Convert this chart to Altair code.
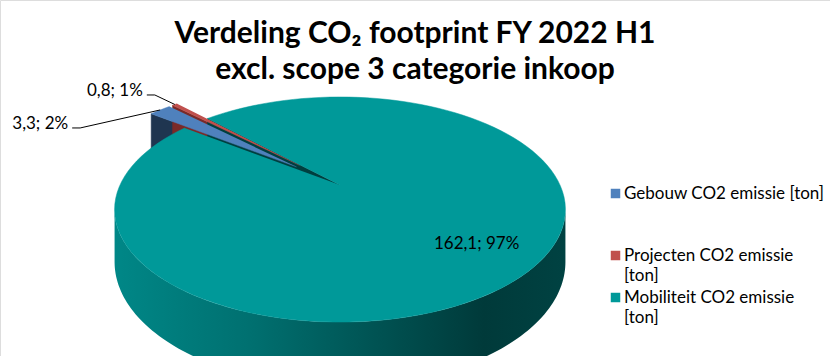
import math
import altair as alt
import pandas as pd

# ---------------- data ----------------
categories = ["Gebouw CO2 emissie [ton]", "Projecten CO2 emissie [ton]", "Mobiliteit CO2 emissie [ton]"]
values = [3.3, 0.8, 162.1]
percent_labels = [2, 1, 97]

# ---------------- style / layout ----------------
colors = ["#4F81BD", "#C0504D", "#009999"]
cut_colors = ["#1F3550", "#7A2A28", "#003F3F"]
explode = [0.27, 0.27, 0.0]
label_outside = [1, 1, 0]
elbow_dx = [-80, -20, 0]   # px offset of leader elbow from slice edge
elbow_dy = [18, -9.5, 0]
LEAD = 8                   # px horizontal end of leader
INSIDE_R = 0.74

W, H = 830, 356
CX, CY = 340.0, 185.0
AX, AY = 220.0, 107.2
P = 0.218
DZ = 0.466
ROT = math.radians(-53)
N = 120
FONT = "Lato"
LABEL_SIZE = 17

xdom = [(0 - CX) / AX, (W - CX) / AX]
ydom = [(0 - CY) / AY, (H - CY) / AY]
xscale = alt.Scale(domain=xdom, nice=False, zero=False)
yscale = alt.Scale(domain=ydom, nice=False, zero=False, reverse=True)

df = pd.DataFrame({
    "cat": categories,
    "value": values,
    "pct": percent_labels,
    "idx": list(range(len(categories))),
})


def base_chart():
    return (
        alt.Chart(df)
        .transform_window(cum="sum(value)", sort=[alt.SortField("idx")], frame=[None, 0])
        .transform_joinaggregate(total="sum(value)")
        .transform_calculate(a0=f"{ROT} + 2*PI*(datum.cum - datum.value)/datum.total")
        .transform_calculate(a1=f"{ROT} + 2*PI*datum.cum/datum.total")
        .transform_calculate(am="(datum.a0 + datum.a1)/2")
        .transform_calculate(ex=f"{explode}[datum.idx]")
        .transform_calculate(ox="datum.ex*sin(datum.am)")
        .transform_calculate(oz="-datum.ex*cos(datum.am)")
        .transform_calculate(col=f"{colors}[datum.idx]")
        .transform_calculate(ccol=f"{cut_colors}[datum.idx]")
    )


def project(ch, hexpr="0"):
    return (
        ch.transform_calculate(px=f"datum.X/(1 - {P}*datum.Z)")
        .transform_calculate(py=f"(datum.Z + ({hexpr})*{DZ})/(1 - {P}*datum.Z)")
    )


XE = alt.X("px:Q", scale=xscale, axis=None)
YE = alt.Y("py:Q", scale=yscale, axis=None)

# cut faces (start edge of each slice)
cut = (
    base_chart()
    .transform_calculate(k="sequence(0, 4)")
    .transform_flatten(["k"])
    .transform_calculate(r="(datum.k == 1 || datum.k == 2) ? 1 : 0")
    .transform_calculate(h="datum.k >= 2 ? 1 : 0")
    .transform_calculate(X="datum.ox + datum.r*sin(datum.a0)")
    .transform_calculate(Z="datum.oz - datum.r*cos(datum.a0)")
)
cut = project(cut, "datum.h").mark_line(strokeWidth=0.5).encode(
    x=XE, y=YE, order="k:Q", detail="cat:N",
    fill=alt.Fill("ccol:N", scale=None),
    stroke=alt.Stroke("ccol:N", scale=None),
)

# outer side wall (visible front part)
TS = math.acos(-P)
TE = 2 * math.pi - TS
side = (
    base_chart()
    .transform_calculate(lo=f"max(datum.a0, {TS})")
    .transform_calculate(hi=f"min(datum.a1, {TE})")
    .transform_filter("datum.lo < datum.hi")
    .transform_calculate(k=f"sequence(0, {2 * N + 2})")
    .transform_flatten(["k"])
    .transform_calculate(j=f"datum.k <= {N} ? datum.k : {2 * N + 1} - datum.k")
    .transform_calculate(h=f"datum.k <= {N} ? 0 : 1")
    .transform_calculate(t=f"datum.lo + (datum.hi - datum.lo)*datum.j/{N}")
    .transform_calculate(X="datum.ox + sin(datum.t)")
    .transform_calculate(Z="datum.oz - cos(datum.t)")
)
side_grad = alt.LinearGradient(
    gradient="linear", x1=0, x2=1, y1=0, y2=0,
    stops=[
        alt.GradientStop(color="#008787", offset=0),
        alt.GradientStop(color="#007070", offset=0.3),
        alt.GradientStop(color="#005656", offset=0.55),
        alt.GradientStop(color="#003a3a", offset=0.82),
        alt.GradientStop(color="#004242", offset=1),
    ],
)
side = project(side, "datum.h").mark_line(fill=side_grad, strokeWidth=0).encode(
    x=XE, y=YE, order="k:Q", detail="cat:N",
)

# top faces
top = (
    base_chart()
    .transform_calculate(s=f"sequence(-1, {N + 1})")
    .transform_flatten(["s"])
    .transform_calculate(r="datum.s < 0 ? 0 : 1")
    .transform_calculate(t=f"datum.a0 + (datum.a1 - datum.a0)*max(datum.s, 0)/{N}")
    .transform_calculate(X="datum.ox + datum.r*sin(datum.t)")
    .transform_calculate(Z="datum.oz - datum.r*cos(datum.t)")
)
top = project(top).mark_line(strokeWidth=0.5).encode(
    x=XE, y=YE, order="s:Q", detail="cat:N",
    fill=alt.Fill("col:N", scale=None),
    stroke=alt.Stroke("col:N", scale=None),
)

# labels
lab = (
    base_chart()
    .transform_calculate(label="replace(format(datum.value, '.1f'), '.', ',') + '; ' + datum.pct + '%'")
    .transform_calculate(outside=f"{label_outside}[datum.idx]")
    .transform_calculate(edx=f"{elbow_dx}[datum.idx]")
    .transform_calculate(edy=f"{elbow_dy}[datum.idx]")
    .transform_calculate(AXp="datum.ox + sin(datum.am)")
    .transform_calculate(AZp="datum.oz - cos(datum.am)")
    .transform_calculate(ax=f"datum.AXp/(1 - {P}*datum.AZp)")
    .transform_calculate(ay=f"datum.AZp/(1 - {P}*datum.AZp)")
    .transform_calculate(bx=f"datum.ax + datum.edx/{AX}")
    .transform_calculate(by=f"datum.ay + datum.edy/{AY}")
    .transform_calculate(ex2=f"datum.ax + (datum.edx - {LEAD})/{AX}")
    .transform_calculate(IX=f"datum.ox + {INSIDE_R}*sin(datum.am)")
    .transform_calculate(IZ=f"datum.oz - {INSIDE_R}*cos(datum.am)")
    .transform_calculate(ix=f"datum.IX/(1 - {P}*datum.IZ)")
    .transform_calculate(iy=f"datum.IZ/(1 - {P}*datum.IZ)")
)

leaders = (
    lab.transform_filter("datum.outside == 1")
    .transform_calculate(k="sequence(0, 3)")
    .transform_flatten(["k"])
    .transform_calculate(px="datum.k == 0 ? datum.ax : (datum.k == 1 ? datum.bx : datum.ex2)")
    .transform_calculate(py="datum.k == 0 ? datum.ay : datum.by")
    .mark_line(color="black", strokeWidth=1)
    .encode(x=XE, y=YE, order="k:Q", detail="cat:N")
)

out_text = (
    lab.transform_filter("datum.outside == 1")
    .mark_text(align="right", baseline="alphabetic", dx=-4, dy=1, font=FONT, fontSize=LABEL_SIZE, color="black")
    .encode(x=alt.X("ex2:Q", scale=xscale, axis=None), y=alt.Y("by:Q", scale=yscale, axis=None), text="label:N")
)

in_text = (
    lab.transform_filter("datum.outside == 0")
    .mark_text(align="center", baseline="middle", font=FONT, fontSize=LABEL_SIZE, color="black")
    .encode(x=alt.X("ix:Q", scale=xscale, axis=None), y=alt.Y("iy:Q", scale=yscale, axis=None), text="label:N")
)

legend_dummy = (
    base_chart()
    .mark_square(opacity=0, size=1)
    .encode(
        x=alt.X("ox:Q", scale=xscale, axis=None),
        y=alt.Y("oz:Q", scale=yscale, axis=None),
        color=alt.Color(
            "cat:N",
            scale=alt.Scale(domain=categories, range=colors),
            legend=alt.Legend(
                orient="none", legendX=607, legendY=185, title=None,
                symbolType="square", symbolSize=90, symbolOpacity=1, symbolStrokeWidth=0,
                labelFont=FONT, labelFontSize=LABEL_SIZE, labelColor="black", labelLimit=400,
                labelOffset=0, rowPadding=4, padding=0,
                labelExpr="indexof(datum.label, 'Gebouw') == 0 ? [datum.label, '', ''] : [replace(datum.label, ' [ton]', ''), '[ton]']",
            ),
        ),
    )
)

chart = (
    alt.layer(cut, side, top, leaders, out_text, in_text, legend_dummy)
    .properties(
        width=W, height=H,
        padding=0,
        autosize=alt.AutoSizeParams(type="none"),
        title=alt.TitleParams(
            text=["Verdeling CO\u2082 footprint FY 2022 H1", "excl. scope 3 categorie inkoop"],
            font=FONT, fontSize=30, fontWeight="bold", color="black",
            anchor="middle", lineHeight=36.2, offset=0, dy=85,
        ),
    )
    .configure_view(stroke=None, strokeWidth=0)
    .configure(background="white", style={"guide-label": {"lineHeight": 20}})
)

chart.save("out.html", embed_options={"renderer": "svg", "actions": False})
